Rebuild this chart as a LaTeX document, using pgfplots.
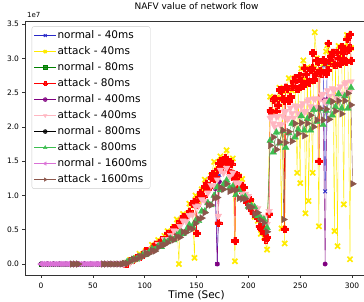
\documentclass[border=0pt]{standalone}
\usepackage{pgfplots}
\pgfplotsset{compat=1.18}
\usepackage{fontspec}
\setmainfont{DejaVu Sans}
\definecolor{cblue}{RGB}{40,40,200}
\definecolor{cyel}{RGB}{255,235,0}
\definecolor{cdgreen}{RGB}{0,128,0}
\definecolor{cred}{RGB}{255,0,0}
\definecolor{cpurple}{RGB}{128,0,128}
\definecolor{cpink}{RGB}{255,182,193}
\definecolor{cgreen}{RGB}{60,190,80}
\definecolor{corchid}{RGB}{218,112,214}
\definecolor{cbrown}{RGB}{140,86,75}
\pgfdeclareplotmark{fplus}{%
 \pgfpathmoveto{\pgfqpoint{-0.36\pgfplotmarksize}{\pgfplotmarksize}}%
 \pgfpathlineto{\pgfqpoint{0.36\pgfplotmarksize}{\pgfplotmarksize}}%
 \pgfpathlineto{\pgfqpoint{0.36\pgfplotmarksize}{0.36\pgfplotmarksize}}%
 \pgfpathlineto{\pgfqpoint{\pgfplotmarksize}{0.36\pgfplotmarksize}}%
 \pgfpathlineto{\pgfqpoint{\pgfplotmarksize}{-0.36\pgfplotmarksize}}%
 \pgfpathlineto{\pgfqpoint{0.36\pgfplotmarksize}{-0.36\pgfplotmarksize}}%
 \pgfpathlineto{\pgfqpoint{0.36\pgfplotmarksize}{-\pgfplotmarksize}}%
 \pgfpathlineto{\pgfqpoint{-0.36\pgfplotmarksize}{-\pgfplotmarksize}}%
 \pgfpathlineto{\pgfqpoint{-0.36\pgfplotmarksize}{-0.36\pgfplotmarksize}}%
 \pgfpathlineto{\pgfqpoint{-\pgfplotmarksize}{-0.36\pgfplotmarksize}}%
 \pgfpathlineto{\pgfqpoint{-\pgfplotmarksize}{0.36\pgfplotmarksize}}%
 \pgfpathlineto{\pgfqpoint{-0.36\pgfplotmarksize}{0.36\pgfplotmarksize}}%
 \pgfpathclose\pgfusepathqfillstroke}
\begin{document}
\begin{tikzpicture}
\useasboundingbox (-25.44pt,-27pt) rectangle (338.56pt,275pt);
\begin{axis}[
 at={(0,0)}, anchor=south west,
 scale only axis, width=342.2pt, height=253.7pt,
 xmin=-15, xmax=315, ymin=-0.16, ymax=3.54,
 xtick={0,50,100,150,200,250,300},
 ytick={0,0.5,1,1.5,2,2.5,3,3.5},
 tick align=outside, tick pos=left,
 major tick length=3pt,
 every tick/.style={black!80, line width=0.6pt},
 /pgf/number format/assume math mode=true,
 scaled y ticks=false,
 yticklabel style={/pgf/number format/fixed,/pgf/number format/fixed zerofill,/pgf/number format/precision=1, font=\fontsize{7.5}{9}\selectfont, anchor=east, inner sep=0pt, xshift=-3.3pt},
 xticklabel style={font=\fontsize{7.5}{9}\selectfont, anchor=base, inner sep=0pt, yshift=-11pt},
 axis line style={line width=0.8pt, black!80},
 title={NAFV value of network flow},
 title style={at={(axis description cs:0.5,1)}, anchor=base, yshift=6pt, font=\fontsize{9}{10}\selectfont},
 xlabel={Time (Sec)},
 xlabel style={at={(axis description cs:0.5,0)}, anchor=base, yshift=-24pt, font=\fontsize{10.5}{12}\selectfont},
 unbounded coords=jump,
 legend cell align=left,
 legend image code/.code={\draw[mark repeat=2,mark phase=2] plot coordinates {(0cm,0cm) (0.39cm,0cm) (0.78cm,0cm)};},
 legend image post style={mark size=2pt},
 legend style={at={(axis description cs:0.0184,0.980)}, anchor=north west, draw=black!20, rounded corners=2pt, fill=white, fill opacity=0.8, text opacity=1, draw opacity=1, font=\fontsize{10.5}{12}\selectfont, inner xsep=2pt, inner ysep=3pt, row sep=4pt, nodes={text height=8pt, text depth=2pt, inner sep=1pt}},
 after end axis/.code={\node[anchor=south west, inner sep=0pt, font=\fontsize{7}{8}\selectfont] at (rel axis cs:0,1) [xshift=1.5pt, yshift=3pt] {1e7};},
]
% normal - 40ms
\addplot[color=cblue, line width=0.4pt, mark=x, mark size=2.6pt, mark options={line width=0.9pt}] coordinates {
(0,0)(6,0)(12,0)(18,0)(24,0)(30,0)(36,0)(42,0)(48,0)(54,0)(60,0)(66,0)(72,0)(78,0)(100,nan)
(168,1.30)(170,0.00)(172,1.30)(200,nan)(272,2.90)(274,1.06)(276,2.90)};
\addlegendentry{normal - 40ms}
% attack - 40ms
\addplot[color=cyel, line width=0.4pt, mark=x, mark size=3.6pt, mark options={line width=1.7pt}] coordinates {
(80,0.00)(83,0.02)(86,0.06)(89,0.06)(92,0.09)(95,0.15)(98,0.14)(101,0.19)(104,0.19)(107,0.28)(110,0.27)(113,0.35)(116,0.32)(119,0.41)(122,0.48)(125,0.46)(128,0.54)(131,0.65)(133,0.00)(134,0.61)(137,0.73)(140,0.70)(143,0.88)(146,0.85)(148,0.09)(149,1.00)(152,0.92)(155,1.09)(158,1.23)(161,1.15)(164,1.29)(167,1.49)(170,1.38)(173,1.57)(176,1.47)(179,1.66)(182,1.51)(185,1.54)(187,0.04)(188,1.25)(191,1.28)(194,1.24)(197,1.00)(200,0.94)(203,0.91)(206,0.69)(209,0.63)(212,0.44)(215,0.39)(218,0.21)(221,2.44)(224,2.22)(227,2.42)(230,2.57)(232,0.52)(233,2.41)(235,0.30)(236,2.52)(239,2.71)(242,2.53)(245,2.71)(247,1.33)(248,2.56)(250,1.18)(251,2.85)(253,2.97)(254,2.70)(255,0.74)(257,2.87)(258,0.92)(260,2.66)(262,1.33)(263,2.87)(264,3.38)(266,3.00)(268,0.55)(269,2.82)(272,2.92)(275,3.10)(276,3.19)(278,2.91)(281,3.07)(283,0.48)(284,2.91)(286,0.26)(287,3.18)(290,3.02)(292,0.87)(293,3.18)(295,3.34)(296,2.96)(298,0.07)(299,3.15)};
\addlegendentry{attack - 40ms}
% normal - 80ms
\addplot[color=cdgreen, line width=0.4pt, mark=square*, mark size=2.2pt, mark options={fill=cdgreen}] coordinates {
(0,0)(6,0)(12,0)(18,0)(24,0)(30,0)(36,0)(42,0)(48,0)(54,0)(60,0)(66,0)(72,0)(78,0)};
\addlegendentry{normal - 80ms}
% attack - 80ms
\addplot[color=cred, line width=0.4pt, mark=fplus, mark size=3.4pt, mark options={fill=cred, line width=0.3pt}] coordinates {
(80,0.00)(83,0.01)(86,0.05)(89,0.06)(92,0.09)(95,0.10)(98,0.14)(101,0.19)(104,0.19)(107,0.23)(110,0.29)(113,0.29)(116,0.35)(119,0.36)(122,0.45)(125,0.45)(128,0.53)(131,0.53)(134,0.62)(137,0.69)(140,0.69)(143,0.77)(146,0.88)(147.5,0.91)(149,0.87)(150,0.45)(150.5,0.86)(152,0.97)(153.5,1.04)(155,0.97)(156.5,0.99)(158,1.13)(159.5,1.18)(161,1.13)(162.5,1.12)(164,1.26)(165.5,1.32)(167,1.24)(168.5,1.26)(170,1.38)(171,0.60)(171.5,1.47)(173,1.51)(174.5,1.41)(176,1.48)(177.5,1.55)(179,1.48)(180.5,1.37)(182,1.49)(183.5,1.46)(185,1.32)(186.5,1.24)(187,0.34)(188,1.30)(189.5,1.29)(191,1.13)(192.5,1.08)(194,1.15)(195.5,1.12)(197,0.99)(198.5,0.91)(200,0.95)(201.5,0.94)(203,0.79)(204.5,0.74)(206,0.75)(207.5,0.74)(209,0.67)(210.5,0.55)(212,0.53)(213.5,0.55)(215,0.45)(216.5,0.36)(218,0.39)(220,0.73)(221,2.24)(222.5,2.21)(224,2.40)(225.5,2.42)(227,2.23)(228.5,2.32)(230,2.54)(231.5,2.53)(233,2.41)(234.5,2.38)(235,0.51)(236,2.58)(237.5,2.55)(239,2.38)(240.5,2.44)(242,2.59)(243.5,2.66)(245,2.72)(246.5,2.56)(248,2.55)(249.5,2.75)(251,2.67)(252.5,2.60)(254,2.86)(255.5,2.77)(257,2.66)(258.5,2.65)(260,2.83)(261.5,2.86)(262,3.08)(263,2.69)(264.5,2.76)(266,2.97)(267.5,2.95)(268,1.50)(269,2.82)(270.5,2.78)(272,2.98)(273.5,2.95)(275,2.77)(276.5,2.83)(277,3.22)(278,2.97)(279.5,3.03)(281,3.09)(282.5,2.91)(283,3.09)(284,2.90)(285.5,3.09)(287,3.00)(288.5,2.92)(290,3.17)(291.5,3.08)(293,2.97)(294.5,2.95)(295,3.28)(296,3.13)(297.5,3.15)(298,3.35)(299,2.97)};
\addlegendentry{attack - 80ms}
% normal - 400ms
\addplot[color=cpurple, line width=0.4pt, mark=*, mark size=2.2pt, mark options={fill=cpurple}] coordinates {
(0,0)(6,0)(12,0)(18,0)(24,0)(30,0)(36,0)(42,0)(48,0)(54,0)(60,0)(66,0)(72,0)(78,0)(100,nan)
(168,1.10)(170,0.00)(172,1.20)(200,nan)(272,2.40)(274,0.00)(276,2.40)};
\addlegendentry{normal - 400ms}
% attack - 400ms
\addplot[color=cpink, line width=0.4pt, mark=triangle*, mark size=3.8pt, mark options={fill=cpink, rotate=180}] coordinates {
(80,0.00)(83,0.03)(86,0.02)(89,0.05)(92,0.08)(95,0.09)(98,0.12)(101,0.17)(104,0.17)(107,0.22)(110,0.22)(113,0.29)(116,0.29)(119,0.36)(122,0.35)(125,0.42)(128,0.49)(131,0.48)(134,0.55)(137,0.63)(140,0.62)(143,0.71)(146,0.72)(149,0.84)(152,0.85)(155,0.94)(158,0.92)(161,1.04)(164,1.15)(167,1.14)(170,1.23)(171,0.70)(173,1.37)(176,1.33)(179,1.40)(182,1.28)(185,1.33)(188,1.19)(191,1.18)(194,1.03)(197,1.02)(200,0.99)(203,0.86)(206,0.83)(209,0.81)(212,0.69)(215,0.68)(218,0.58)(220,0.77)(221,2.13)(222.5,2.15)(224,2.05)(225.5,2.00)(227,2.15)(228.5,2.16)(230,2.04)(231.5,2.03)(233,2.16)(234.5,2.22)(236,2.23)(237.5,2.11)(239,2.13)(240.5,2.28)(242,2.20)(243.5,2.13)(245,2.31)(246.5,2.28)(248,2.20)(249.5,2.15)(251,2.30)(252.5,2.34)(254,2.22)(255.5,2.23)(257,2.38)(258.5,2.40)(260,2.30)(261.5,2.26)(263,2.41)(264.5,2.41)(266,2.29)(267.5,2.28)(269,2.41)(270.5,2.47)(272,2.48)(273.5,2.36)(275,2.38)(276.5,2.53)(278,2.45)(279.5,2.38)(281,2.56)(282.5,2.53)(284,2.45)(285.5,2.40)(287,2.55)(288.5,2.59)(290,2.47)(291.5,2.48)(293,2.63)(294.5,2.65)(296,2.55)(297.5,2.51)(299,2.66)};
\addlegendentry{attack - 400ms}
% normal - 800ms
\addplot[color=black, line width=0.4pt, mark=*, mark size=2.2pt, mark options={fill=black}] coordinates {
(0,0)(6,0)(12,0)(18,0)(24,0)(30,0)(36,0)(42,0)(48,0)(54,0)(60,0)(66,0)(72,0)(78,0)};
\addlegendentry{normal - 800ms}
% attack - 800ms
\addplot[color=cgreen, line width=0.4pt, mark=triangle*, mark size=3.8pt, mark options={fill=cgreen}] coordinates {
(80,0.00)(83,0.03)(86,0.04)(89,0.07)(92,0.07)(95,0.10)(98,0.13)(101,0.14)(104,0.17)(107,0.22)(110,0.21)(113,0.26)(116,0.25)(119,0.33)(122,0.32)(125,0.37)(128,0.35)(131,0.42)(134,0.46)(137,0.44)(140,0.49)(143,0.57)(146,0.55)(149,0.63)(152,0.63)(155,0.77)(158,0.77)(161,0.89)(164,0.86)(167,1.00)(170,1.12)(173,1.08)(176,1.16)(179,1.22)(182,1.11)(185,1.13)(188,1.01)(191,1.08)(194,0.96)(197,0.98)(200,0.84)(203,0.85)(206,0.83)(209,0.70)(212,0.67)(215,0.65)(218,0.53)(221,1.80)(224,1.63)(227,1.92)(230,1.76)(233,1.94)(236,1.70)(239,1.91)(242,2.05)(245,1.85)(248,1.96)(251,2.16)(254,1.95)(257,2.12)(260,1.95)(263,2.25)(266,2.08)(269,2.26)(272,2.03)(275,2.24)(278,2.37)(281,2.17)(284,2.29)(287,2.48)(290,2.27)(293,2.45)(296,2.27)(299,2.57)};
\addlegendentry{attack - 800ms}
% normal - 1600ms
\addplot[color=corchid, line width=0.4pt, mark=triangle*, mark size=3.3pt, mark options={fill=corchid, rotate=90}] coordinates {
(0,0)(2,0)(4,0)(6,0)(8,0)(10,0)(12,0)(14,0)(16,0)(18,0)(20,0)(22,0)(24,0)(26,0)(28,0)(30,0)(32,0)(34,0)(36,0)(38,0)(40,0)(42,0)(44,0)(46,0)(48,0)(50,0)(52,0)(54,0)(56,0)(58,0)(60,0)(62,0)(64,0)(66,0)(68,0)(70,0)(72,0)(74,0)(76,0)(78,0)};
\addlegendentry{normal - 1600ms}
% attack - 1600ms
\addplot[color=cbrown, line width=0.4pt, mark=triangle*, mark size=3.8pt, mark options={fill=cbrown, rotate=-90}] coordinates {
(30,0)(33,0)(36,0)(48,nan)(60,0)(63,0)(66,0)(69,0)(72,0)(75,0)(78,0)(80,0.01)(83,0.01)(86,0.04)(89,0.07)(92,0.07)(95,0.11)(98,0.11)(101,0.16)(104,0.15)(107,0.20)(110,0.19)(113,0.24)(116,0.28)(119,0.28)(122,0.31)(125,0.37)(128,0.35)(131,0.40)(134,0.39)(137,0.47)(140,0.46)(143,0.52)(146,0.51)(149,0.59)(152,0.66)(155,0.67)(158,0.75)(161,0.86)(164,0.86)(167,0.96)(170,0.97)(173,1.12)(176,1.09)(179,1.17)(182,1.06)(185,1.08)(188,1.08)(191,0.96)(194,0.95)(197,0.95)(200,0.84)(203,0.83)(206,0.73)(209,0.75)(212,0.64)(215,0.60)(218,0.47)(221,1.73)(224,1.85)(227,1.67)(230,1.78)(233,1.95)(234,0.65)(236,1.77)(239,1.93)(242,1.79)(245,2.05)(248,1.90)(251,2.06)(254,1.87)(257,2.05)(260,2.17)(263,2.00)(266,2.10)(269,2.27)(272,2.10)(275,2.26)(278,2.11)(281,2.37)(284,2.23)(287,2.38)(290,2.19)(293,2.38)(296,2.49)(299,2.32)(300.5,1.17)};
\addlegendentry{attack - 1600ms}
\end{axis}
\end{tikzpicture}
\end{document}
